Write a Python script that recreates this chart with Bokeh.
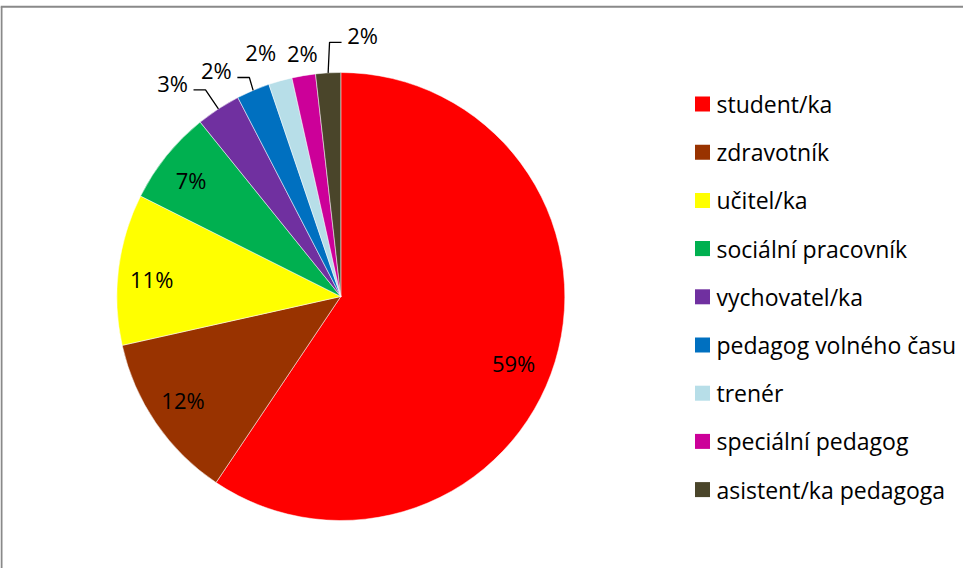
import numpy as np
from bokeh.plotting import figure
from bokeh.models import Range1d, ColumnDataSource
from bokeh.core.properties import value
from bokeh.embed import file_html
from bokeh.resources import INLINE

# ---- data ----
categories = ["student/ka", "zdravotník", "učitel/ka", "sociální pracovník",
              "vychovatel/ka", "pedagog volného času", "trenér",
              "speciální pedagog", "asistent/ka pedagoga"]
shares = [59.4, 12.1, 10.9, 6.8, 3.2, 2.4, 1.7, 1.7, 1.8]
colors = ["#FF0000", "#993300", "#FFFF00", "#00B050", "#7030A0",
          "#0070C0", "#B7DEE8", "#CC0099", "#4A452A"]

# ---- label layout (style only) ----
label_inside = [True, True, True, True, False, False, False, False, False]
label_nudge_deg = [4.0, 1.0, -1.6, -0.9, -5.1, -5.8, -2.5, 0.6, 8.0]
label_radius = [185, 189, 190, 190, 272, 258, 257, 247, 262]
has_leader = [False, False, False, False, True, True, False, False, True]

FONT = "Open Sans"
W, H = 963, 568

p = figure(width=W, height=H, x_range=Range1d(0, W), y_range=Range1d(0, H),
           output_backend="svg", toolbar_location=None,
           x_axis_type=None, y_axis_type=None, min_border=0,
           outline_line_color=None)
p.background_fill_color = "white"
p.border_fill_color = "white"
p.xgrid.visible = False
p.ygrid.visible = False


def Y(yd):
    return H - yd


# frame (only top and left edges visible in the window)
p.line(x=[1, 1], y=[Y(6.3), Y(H)], line_color="#898989", line_width=2)
p.line(x=[0, W], y=[Y(6.3), Y(6.3)], line_color="#898989", line_width=2)

cx, cy = 340.3, Y(296)
R = 224
vals = np.array(shares, dtype=float)
frac = np.concatenate([[0.0], np.cumsum(vals)]) / vals.sum()
th0 = frac[:-1] * 2 * np.pi          # clockwise from 12 o'clock
th1 = frac[1:] * 2 * np.pi
src = ColumnDataSource(dict(
    cat=categories,
    start=np.pi / 2 - th1,
    end=np.pi / 2 - th0,
    color=colors,
))
p.wedge(x=cx, y=cy, radius=R, radius_units="screen",
        start_angle="start", end_angle="end", direction="anticlock",
        fill_color="color", line_color="white", line_width=0.5, source=src)

mid = (th0 + th1) / 2
labels = [f"{round(v)}%" for v in shares]
lx, ly = [], []
for i in range(len(shares)):
    a = mid[i] + np.radians(label_nudge_deg[i])
    lx.append(cx + label_radius[i] * np.sin(a))
    ly.append(cy + label_radius[i] * np.cos(a))

p.text(x=lx, y=ly, text=labels, text_font=value(FONT),
       text_font_size=value("22px"), text_align="center",
       text_baseline="middle", text_color="black")

# leader lines
for i in range(len(shares)):
    if not has_leader[i]:
        continue
    ax = cx + R * np.sin(mid[i])
    ay = cy + R * np.cos(mid[i])
    side = 1 if lx[i] < ax else -1
    ey = ly[i] - 7
    p.line(x=[ax, lx[i] + side * 33, lx[i] + side * 21],
           y=[ay, ey, ey], line_color="black", line_width=1.3)

# legend (manual)
leg_x = 702
leg_y0 = 103.5
leg_dy = 48.2
ys = [Y(leg_y0 + i * leg_dy) for i in range(len(categories))]
p.scatter(x=[leg_x] * len(categories), y=ys, marker="square", size=15,
          fill_color=colors, line_color=None)
p.text(x=[leg_x + 14] * len(categories), y=ys, text=categories,
       text_font=value(FONT), text_font_size=value("23px"),
       text_align="left", text_baseline="middle", text_color="black")

open("out.html", "w").write(file_html(p, INLINE))
